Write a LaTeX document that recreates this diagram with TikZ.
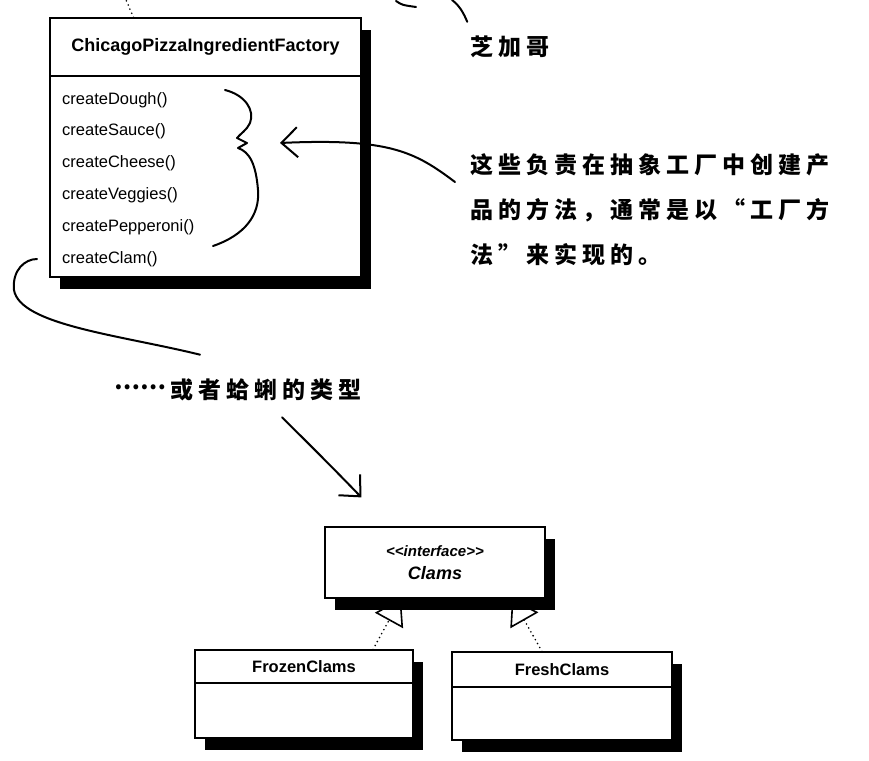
\documentclass[tikz,border=0pt]{standalone}
\usepackage{fontspec}
\usepackage{tikz}
\usetikzlibrary{positioning,shadows,arrows.meta,backgrounds}
\newfontfamily\umlfont{Liberation Sans}
\newfontfamily\handfont[LetterSpace=22]{Noto Sans CJK SC}
\tikzstyle{classbox} = [draw, fill=white, line width=1.2pt, inner sep=0pt, drop shadow={fill=black, opacity=1, shadow xshift=10pt, shadow yshift=-12pt}]
\tikzstyle{header} = [draw, line width=1.2pt, inner sep=0pt, anchor=north, font=\umlfont\bfseries\fontsize{16.5pt}{18pt}\selectfont]
\tikzstyle{method} = [inner sep=0pt, text height=12pt, text depth=4pt, font=\umlfont\fontsize{16.5pt}{18pt}\selectfont]
\tikzstyle{hand} = [inner sep=0pt, align=left, font=\handfont\bfseries\fontsize{23pt}{45pt}\selectfont]
\tikzstyle{scrawl} = [line width=2pt, line cap=round, line join=round]
\tikzstyle{pointer} = [scrawl, -{Straight Barb[length=16pt, width=30pt, line width=2pt]}]
\tikzstyle{dotline} = [line width=1.8pt, line cap=round, dash pattern=on 0pt off 4.5pt]
\tikzstyle{implements} = [dotline, -{Triangle[open, length=25pt, width=32pt, line width=1.6pt]}]

\begin{document}
\begin{tikzpicture}[x=1pt, y=-1pt]
		\useasboundingbox (0,0) rectangle (869,760);
		% factory class with its methods
		\node[classbox, minimum width=311pt, minimum height=259pt] (factory) at (205.5,147.5) {};
		\node[header, minimum width=311pt, minimum height=58pt, font=\umlfont\bfseries\fontsize{18pt}{20pt}\selectfont] (factoryname) at (factory.north) {ChicagoPizzaIngredientFactory};
		\node[method, anchor=west] (dough) at (62,100) {createDough()};
		\node[method, below=15.4pt of dough.south west, anchor=north west] (sauce) {createSauce()};
		\node[method, below=15.4pt of sauce.south west, anchor=north west] (cheese) {createCheese()};
		\node[method, below=15.4pt of cheese.south west, anchor=north west] (veggies) {createVeggies()};
		\node[method, below=15.4pt of veggies.south west, anchor=north west] (pepperoni) {createPepperoni()};
		\node[method, below=15.4pt of pepperoni.south west, anchor=north west] (clam) {createClam()};
		\coordinate (factorylink) at (126,0);
		\draw[dotline] ([xshift=-72pt]factory.north) -- (factorylink);

		% handwritten notes
		\node[hand] (chicago) at (510,47) {芝加哥};
		\node[hand, anchor=west] (note) at (470,210) {这些负责在抽象工厂中创建产\\品的方法，通常是以“工厂方\\法”来实现的。};
		\node[hand] (clamtype) at (238,390) {\raisebox{0.38em}{\addfontfeature{LetterSpace=0}……}\hspace{4pt}或者蛤蜊的类型};
		\coordinate (chicagotop) at (452,0);
		\draw[scrawl] (396,1) .. controls (402,5) .. (416,7);
		\draw[scrawl] (chicagotop) .. controls (460,6) and (464,14) .. ([xshift=-3pt, yshift=14pt]chicago.north west);
		\draw[scrawl] (225,90) .. controls (245,95) and (255,110) .. (250,123) .. controls (247,130) and (240,134) .. (237,138) -- (247,143) -- (238,148) .. controls (250,152) and (256,165) .. (258,190) .. controls (260,215) and (245,235) .. (213,246);
		\coordinate (bracetip) at (280,143);
		\draw[pointer] ([xshift=-15pt, yshift=28pt]note.west) .. controls (415,152) and (390,138) .. (bracetip);
		\draw[scrawl] ([xshift=-38pt, yshift=24pt]clamtype.north) .. controls (120,335) and (20,325) .. (14,290) .. controls (12,270) and (25,259) .. ([xshift=-25pt]clam.west);

		% clam classes
		\node[classbox, minimum width=220pt, minimum height=71pt, align=center, font=\umlfont\bfseries\itshape\fontsize{18pt}{23pt}\selectfont] (clams) at (435,562.5) {{\fontsize{15pt}{23pt}\selectfont <{}<interface>{}>}\\Clams};
		\node[classbox, minimum width=218pt, minimum height=88pt] (frozen) at (304,694) {};
		\node[header, minimum width=218pt, minimum height=33pt] (frozenname) at (frozen.north) {FrozenClams};
		\node[classbox, minimum width=220pt, minimum height=88pt] (fresh) at (562,696) {};
		\node[header, minimum width=220pt, minimum height=35pt] (freshname) at (fresh.north) {FreshClams};
		\draw[pointer] ([xshift=44pt, yshift=-16pt]clamtype.south) .. controls (310,445) and (335,470) .. ([xshift=37pt, yshift=29pt]clams.north west);
		\begin{scope}[on background layer]
			\draw[implements] ([xshift=69pt]frozen.north) -- ([xshift=-34pt]clams.south);
			\draw[implements] ([xshift=-20pt]fresh.north) -- ([xshift=77pt]clams.south);
		\end{scope}
	\end{tikzpicture}
\end{document}
